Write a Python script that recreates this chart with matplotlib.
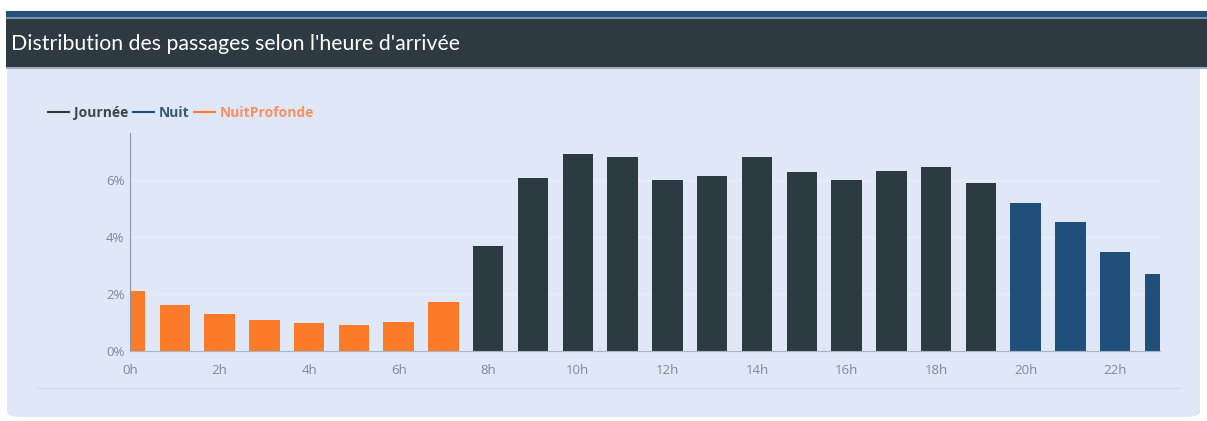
import matplotlib
matplotlib.use("Agg")
import matplotlib.pyplot as plt
from matplotlib.patches import Rectangle, FancyBboxPatch
from matplotlib.lines import Line2D

# hourly share of arrivals (%)
hours = list(range(24))
pct = [2.10, 1.61, 1.30, 1.09, 0.97, 0.91, 1.03, 1.73,
       3.68, 6.06, 6.93, 6.82, 6.00, 6.15, 6.82, 6.27,
       6.00, 6.33, 6.44, 5.91, 5.20, 4.54, 3.48, 2.70]
period = ["NuitProfonde"] * 8 + ["Journée"] * 12 + ["Nuit"] * 4
series = ["Journée", "Nuit", "NuitProfonde"]
colors = {"Journée": "#2c3a42", "Nuit": "#1f4f7b", "NuitProfonde": "#fb7b29"}
legend_colors = {"Journée": "#3b4650", "Nuit": "#385878", "NuitProfonde": "#f79064"}
xticks = list(range(0, 24, 2))
xticklabels = [f"{h}h" for h in xticks]
yticks = [0, 2, 4, 6]
yticklabels = [f"{v}%" for v in yticks]
title = "Distribution des passages selon l'heure d'arrivée"

W, H = 1207, 421
fig = plt.figure(figsize=(W / 100, H / 100), dpi=100, facecolor="white")

def px(x0, y0, w, h):
    # pixel box (top-left origin) -> figure fraction
    return (x0 / W, 1 - (y0 + h) / H, w / W, h / H)

# panel background
x0, y0, w, h = px(7, 60, 1193, 357)
fig.patches.append(FancyBboxPatch((x0, y0), w, h, boxstyle="round,pad=0,rounding_size=0.012",
                                  transform=fig.transFigure, facecolor="#e0e8f8",
                                  edgecolor="none", zorder=0))
# header stripe + title bar
for (bx, by, bw, bh, c) in [(6, 11, 1201, 6, "#24507a"), (6, 17, 1201, 2, "#7896b4"),
                            (6, 19, 1201, 48, "#2e3a42"), (6, 67, 1201, 2, "#9fb0c4")]:
    fx, fy, fw, fh = px(bx, by, bw, bh)
    fig.patches.append(Rectangle((fx, fy), fw, fh, transform=fig.transFigure,
                                 facecolor=c, edgecolor="none", zorder=1))
fig.text(11 / W, 1 - 44 / H, title, color="white", fontsize=15.3, family="Lato",
         va="center", ha="left", zorder=3)

# separator under the chart
fig.add_artist(Line2D([38 / W, 1180 / W], [1 - 388 / H] * 2, color="#d3dbe9", lw=1, zorder=2))

ax = fig.add_axes(px(130, 133, 1030, 218))
ax.set_zorder(5)
ax.set_facecolor("none")
for s in series:
    xs = [hr for hr, p in zip(hours, period) if p == s]
    ys = [v for v, p in zip(pct, period) if p == s]
    ax.bar(xs, ys, width=0.68, color=colors[s], zorder=2)

ax.set_xlim(0, 23)
ax.set_ylim(0, 7.65)
ax.set_xticks(xticks, xticklabels)
ax.set_yticks(yticks, yticklabels)
ax.tick_params(length=0, colors="#7f8893", labelsize=9.5)
ax.tick_params(axis="x", pad=9)
ax.tick_params(axis="y", pad=4)
for lab in ax.get_xticklabels() + ax.get_yticklabels():
    lab.set_family("Open Sans")
ax.grid(axis="y", color="#e9eefa", lw=1, zorder=0)
for side in ["top", "right"]:
    ax.spines[side].set_visible(False)
ax.spines["left"].set_color("#8d95a0")
ax.spines["bottom"].set_color("#aab3c0")

handles = [Line2D([], [], color=colors[s], lw=1.5) for s in series]
leg = fig.legend(handles, series, loc="center left", bbox_to_anchor=(48 / W, 1 - 113 / H),
                 ncol=3, frameon=False, handlelength=1.5, handletextpad=0.35,
                 columnspacing=0.35, borderpad=0, borderaxespad=0,
                 labelcolor=[legend_colors[s] for s in series],
                 prop={"family": "Open Sans", "weight": "bold", "size": 10})
leg.set_zorder(5)

fig.savefig("out.png", dpi=100, facecolor="white")
